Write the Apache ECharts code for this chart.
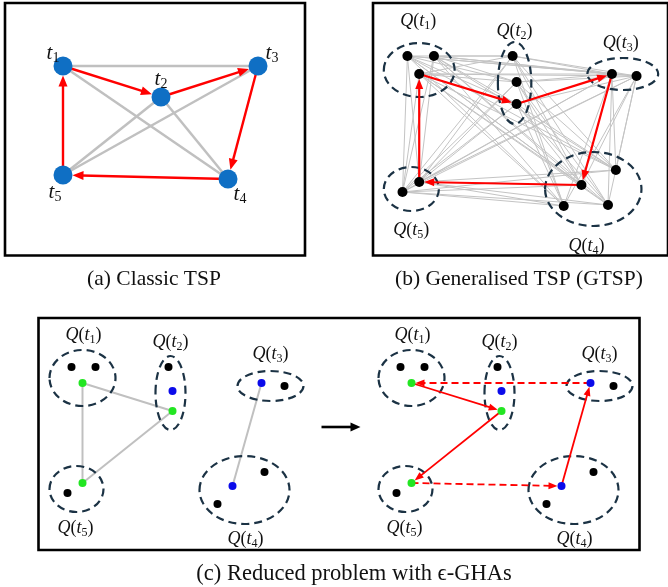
<!DOCTYPE html>
<html><head><meta charset="utf-8">
<script src="https://cdn.jsdelivr.net/npm/echarts@6/dist/echarts.min.js"></script>
<style>html,body{margin:0;padding:0;background:#fff}#c{width:668px;height:587px}</style>
</head><body><div id="c"></div>
<script>
// ---------- Panel (a): Classic TSP ----------
const aNodes = [[58,63],[156,94],[253,63],[223,176],[58,172]];           // t1..t5
const aGreyEdges = [[0,2],[0,3],[1,4],[1,3],[2,4]];
const aRedEdges = [[0,1],[1,2],[2,3],[3,4],[4,0]];
const aLabelPos = [[48,50],[156,76],[267,50],[235,191],[50,189]];
const aLabelSubs = ['1','2','3','4','5'];

// ---------- Panel (b): Generalised TSP ----------
const bPoints = [[35,53],[62,53],[47,71],[142,53],[146,79],[146,101],[243,71],[268,73],
                 [247,167],[212,182],[194,203],[239,202],[47,179],[30,189]];
const bCluster = [0,0,0,1,1,1,2,2,3,3,3,3,4,4];
const bRedPath = [2,5,6,9,12,2];
const bEllipses = [[47,67,36,27],[144,80,17,41],[254,71,36,16],[224,186,49,37],[39,186,28,22]];
const bLabelPos = [[46,18],[144,28],[252,40],[217,243],[39,227]];
const bLabelSubs = ['1','2','3','4','5'];

// ---------- Panel (c): Reduced problem ----------
const cPoints = [[33,49],[57,49],[44,65],[130,49],[134,73],[134,93],[223,65],[246,68],
                 [194,168],[226,154],[179,186],[44,165],[29,175]];
const cKind = ['k','k','g','k','b','g','b','k','b','k','k','g','k'];
const cGreyEdges = [[2,5],[2,11],[5,11],[6,8]];
const cRedSolid = [[2,5],[5,11],[8,6]];
const cRedDashed = [[6,2],[11,8]];
const cEllipses = [[44,60,33,28],[132,75,15,37],[232,68,33,15],[206,172,45,34],[38,171,27,23]];
const cLabelPos = [[45,17],[132,24],[232,36],[207,221],[37,210]];
const cLabelSubs = ['1','2','3','4','5'];
const cArrow = [[283,109],[322,109]];

const captions = ['(a) Classic TSP', '(b) Generalised TSP (GTSP)', '(c) Reduced problem with \u03F5-GHAs'];

// ---------- helpers ----------
const kindColor = {k:'#000000', g:'#22e622', b:'#0b0bea'};
function edgeSeries(ax, edges, o) {
  return {
    type:'custom', xAxisIndex:ax, yAxisIndex:ax, clip:false, silent:true, z:o.z||2,
    data: edges, encode:{x:[0,2], y:[1,3]},
    renderItem(params, api) {
      const p1 = api.coord([api.value(0), api.value(1)]);
      const p2 = api.coord([api.value(2), api.value(3)]);
      const dx = p2[0]-p1[0], dy = p2[1]-p1[1], L = Math.hypot(dx,dy);
      const ux = dx/L, uy = dy/L;
      const sg = o.startGap||0, eg = o.endGap||0;
      const s = [p1[0]+ux*sg, p1[1]+uy*sg];
      const e = [p2[0]-ux*eg, p2[1]-uy*eg];
      const ch = [];
      const ls = {stroke:o.color, lineWidth:o.width, lineDash:o.dash||null, lineCap:'butt'};
      if (o.arrow) {
        const al = o.arrow[0], aw = o.arrow[1];
        const b = [e[0]-ux*al, e[1]-uy*al];
        ch.push({type:'line', shape:{x1:s[0],y1:s[1],x2:b[0]+ux*2,y2:b[1]+uy*2}, style:ls});
        ch.push({type:'polygon', shape:{points:[e,[b[0]-uy*aw/2,b[1]+ux*aw/2],[b[0]+uy*aw/2,b[1]-ux*aw/2]]}, style:{fill:o.color}});
      } else {
        ch.push({type:'line', shape:{x1:s[0],y1:s[1],x2:e[0],y2:e[1]}, style:ls});
      }
      return {type:'group', children:ch};
    }
  };
}
function ellipseSeries(ax, ell) {
  return {
    type:'custom', xAxisIndex:ax, yAxisIndex:ax, clip:false, silent:true, z:3,
    data: ell, encode:{x:0, y:1},
    renderItem(params, api) {
      const c = api.coord([api.value(0), api.value(1)]);
      const sz = api.size([api.value(2), api.value(3)]);
      return {type:'ellipse', shape:{cx:c[0], cy:c[1], rx:Math.abs(sz[0]), ry:Math.abs(sz[1])},
        style:{fill:null, stroke:'#1b3244', lineWidth:2.2, lineDash:[8,5]}};
    }
  };
}
function labelSeries(ax, pos, subs, withQ, fs, ss) {
  return {
    type:'custom', xAxisIndex:ax, yAxisIndex:ax, clip:false, silent:true, z:6,
    data: pos, encode:{x:0, y:1},
    renderItem(params, api) {
      const c = api.coord([api.value(0), api.value(1)]);
      const sub = subs[params.dataIndex];
      const txt = withQ ? '{i|Q}{n|(}{i|t}{s|'+sub+'}{n|)}' : '{i|t}{s|'+sub+'}';
      const lh = fs+4;
      return {type:'text', x:c[0], y:c[1], style:{
        text: txt, align:'center', verticalAlign:'middle',
        rich:{
          i:{fontFamily:'Liberation Serif', fontStyle:'italic', fontSize:fs, lineHeight:lh, verticalAlign:'middle', fill:'#111'},
          n:{fontFamily:'Liberation Serif', fontSize:fs, lineHeight:lh, verticalAlign:'middle', fill:'#111'},
          s:{fontFamily:'Liberation Serif', fontSize:ss, lineHeight:ss, verticalAlign:'bottom', fill:'#111'}
        }}};
    }
  };
}
function nodeSeries(ax, pts, colors, size, z) {
  return {type:'scatter', xAxisIndex:ax, yAxisIndex:ax, silent:true, z:z||5, symbolSize:size,
    data: pts.map((p,i)=>({value:p, itemStyle:{color:colors[i], opacity:1}}))};
}
const pair = (P)=>([i,j])=>[P[i][0],P[i][1],P[j][0],P[j][1]];

// Panel b grey complete inter-cluster edges
const bGreyEdges = [];
for (let i=0;i<bPoints.length;i++) for (let j=i+1;j<bPoints.length;j++)
  if (bCluster[i]!==bCluster[j]) bGreyEdges.push([i,j]);
const bRedEdges = [];
for (let k=0;k<bRedPath.length-1;k++) bRedEdges.push([bRedPath[k], bRedPath[k+1]]);

const grids = [
  {left:5, top:3, width:300, height:252.5},
  {left:373, top:3, width:300, height:252.5},
  {left:38.5, top:318, width:601, height:232},
  {left:367.5, top:318, width:270, height:232}
];
const chart = echarts.init(document.getElementById('c'), null, {renderer:'canvas'});
chart.setOption({
  animation:false,
  backgroundColor:'#fff',
  grid: grids.map((g,i)=>Object.assign({show:i<3, borderColor:'#000', borderWidth:2.6, backgroundColor:'#fff', containLabel:false}, g)),
  xAxis: grids.map((g,i)=>({type:'value', gridIndex:i, min:0, max:g.width, show:false})),
  yAxis: grids.map((g,i)=>({type:'value', gridIndex:i, min:0, max:g.height, inverse:true, show:false})),
  graphic: [
    {type:'text', x:154, y:279, style:{text:captions[0], font:'21.5px "Liberation Serif"', align:'center', verticalAlign:'middle', fill:'#111'}},
    {type:'text', x:519, y:279, style:{text:captions[1], font:'21.5px "Liberation Serif"', align:'center', verticalAlign:'middle', fill:'#111'}},
    {type:'text', x:354, y:574, style:{text:captions[2], font:'22.5px "Liberation Serif"', align:'center', verticalAlign:'middle', fill:'#111'}}
  ],
  series: [
    // (a)
    edgeSeries(0, aGreyEdges.map(pair(aNodes)), {color:'#c0c0c0', width:2.5, z:1}),
    edgeSeries(0, aRedEdges.map(pair(aNodes)), {color:'#ff0000', width:2.4, endGap:9.5, arrow:[11,9], z:2}),
    nodeSeries(0, aNodes, aNodes.map(()=>'#0f6fc4'), 19),
    labelSeries(0, aLabelPos, aLabelSubs, false, 21, 14),
    // (b)
    edgeSeries(1, bGreyEdges.map(pair(bPoints)), {color:'#c4c4c4', width:1, z:1}),
    ellipseSeries(1, bEllipses),
    edgeSeries(1, bRedEdges.map(pair(bPoints)), {color:'#ff0000', width:2.2, endGap:5, arrow:[10,8], z:4}),
    nodeSeries(1, bPoints, bPoints.map(()=>'#000'), 10),
    labelSeries(1, bLabelPos, bLabelSubs, true, 18, 12),
    // (c) left
    edgeSeries(2, cGreyEdges.map(pair(cPoints)), {color:'#c0c0c0', width:2, z:1}),
    ellipseSeries(2, cEllipses),
    nodeSeries(2, cPoints, cKind.map(k=>kindColor[k]), 8),
    labelSeries(2, cLabelPos, cLabelSubs, true, 18, 12),
    edgeSeries(2, [[cArrow[0][0],cArrow[0][1],cArrow[1][0],cArrow[1][1]]], {color:'#000', width:2.6, arrow:[10,9], z:4}),
    // (c) right
    ellipseSeries(3, cEllipses),
    edgeSeries(3, cRedSolid.map(pair(cPoints)), {color:'#ff0000', width:1.8, endGap:4, arrow:[9,7], z:4}),
    edgeSeries(3, cRedDashed.map(pair(cPoints)), {color:'#ff0000', width:1.8, endGap:4, arrow:[9,7], dash:[7,4], z:4}),
    nodeSeries(3, cPoints, cKind.map(k=>kindColor[k]), 8),
    labelSeries(3, cLabelPos, cLabelSubs, true, 18, 12)
  ]
});
</script></body></html>
